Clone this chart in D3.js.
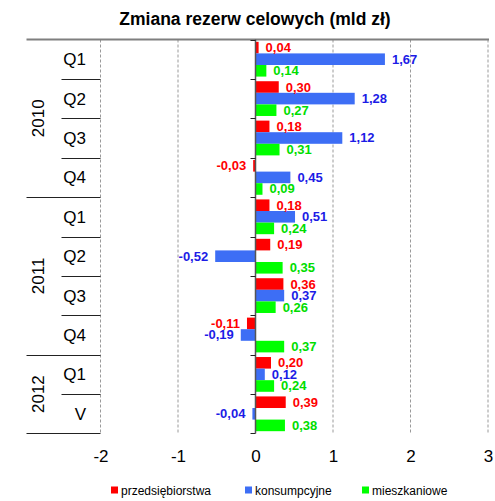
<!DOCTYPE html>
<html>
<head>
<meta charset="utf-8">
<script src="https://cdn.jsdelivr.net/npm/d3@7"></script>
<style>
  html, body { margin: 0; padding: 0; background: #fff; }
  svg { display: block; font-family: Arial, "Liberation Sans", sans-serif; }
</style>
</head>
<body>
<svg id="chart" width="495" height="501"></svg>
<script>
// Period labels (quarters) and the year each belongs to
const periods = ["Q1", "Q2", "Q3", "Q4", "Q1", "Q2", "Q3", "Q4", "Q1", "V"];
const periodYears = ["2010", "2010", "2010", "2010", "2011", "2011", "2011", "2011", "2012", "2012"];
const years = ["2010", "2011", "2012"];

// Change in specific provisions, bn PLN
const seriesNames = ["przedsiębiorstwa", "konsumpcyjne", "mieszkaniowe"];
const przedsiebiorstwa = [0.04, 0.30, 0.18, -0.03, 0.18, 0.19, 0.36, -0.11, 0.20, 0.39];
const konsumpcyjne = [1.67, 1.28, 1.12, 0.45, 0.51, -0.52, 0.37, -0.19, 0.12, -0.04];
const mieszkaniowe = [0.14, 0.27, 0.31, 0.09, 0.24, 0.35, 0.26, 0.37, 0.24, 0.38];

const xTicks = [-2, -1, 0, 1, 2, 3];

const barColors = ["#ff0000", "#3d6ef5", "#00ff00"];
const labelColors = ["#ff0000", "#1c1ce6", "#00dd00"];

const seriesValues = [przedsiebiorstwa, konsumpcyjne, mieszkaniowe];
const rowKeys = periods.map((p, i) => periodYears[i] + "-" + p);
const rows = rowKeys.map((k, i) => ({
  key: k, period: periods[i], year: periodYears[i],
  values: seriesNames.map((s, j) => ({ series: s, idx: j, value: seriesValues[j][i] }))
}));

const fmt = d3.formatLocale({ decimal: ",", thousands: " ", grouping: [3], currency: ["", " zł"], minus: "-" }).format(".2f");

const svg = d3.select("#chart");

const plotTop = 39.5, plotBottom = 433.5;
const x = d3.scaleLinear().domain([-2, 3]).range([100.5, 488]);
const y = d3.scaleBand().domain(rowKeys).range([plotTop, plotBottom]).padding(0);
const ySub = d3.scaleBand().domain(seriesNames).range([0, y.bandwidth()]).paddingInner(0).paddingOuter(0.2);

// Title
svg.append("text")
  .attr("x", 255).attr("y", 25)
  .attr("text-anchor", "middle")
  .attr("font-size", 17.5).attr("font-weight", "bold")
  .attr("fill", "#000")
  .text("Zmiana rezerw celowych (mld zł)");

// Vertical dashed gridlines
svg.append("g").selectAll("line")
  .data(xTicks.filter(t => t !== 0))
  .join("line")
  .attr("x1", d => x(d)).attr("x2", d => x(d))
  .attr("y1", plotTop).attr("y2", plotBottom)
  .attr("stroke", "#9a9a9a").attr("stroke-width", 1)
  .attr("stroke-dasharray", "3,2");

// Top frame line
svg.append("line")
  .attr("x1", 26.5).attr("x2", x(3) + 1)
  .attr("y1", plotTop).attr("y2", plotTop)
  .attr("stroke", "#7f7f7f").attr("stroke-width", 2);

// Row separators in the category panel
const boundaries = rowKeys.map((k, i) => ({ y: y(k) + y.bandwidth(), yearEnd: i === rowKeys.length - 1 || periodYears[i] !== periodYears[i + 1] }));
svg.append("g").selectAll("line")
  .data(boundaries)
  .join("line")
  .attr("x1", d => d.yearEnd ? 26.5 : 61.5).attr("x2", x(-2))
  .attr("y1", d => Math.round(d.y) + 0.5).attr("y2", d => Math.round(d.y) + 0.5)
  .attr("stroke", "#222").attr("stroke-width", 1);

// Quarter labels
svg.append("g").selectAll("text")
  .data(rows)
  .join("text")
  .attr("x", 86)
  .attr("y", d => y(d.key) + y.bandwidth() / 2 + 6)
  .attr("text-anchor", "end")
  .attr("font-size", 17).attr("fill", "#000")
  .text(d => d.period);

// Year labels, rotated and centred over their rows
svg.append("g").selectAll("text")
  .data(years)
  .join("text")
  .attr("transform", yr => {
    const ks = rows.filter(r => r.year === yr).map(r => r.key);
    const cy = (y(ks[0]) + y(ks[ks.length - 1]) + y.bandwidth()) / 2;
    return `translate(44,${cy}) rotate(-90)`;
  })
  .attr("text-anchor", "middle")
  .attr("font-size", 17).attr("fill", "#000")
  .text(yr => yr);

// Bars
const rowG = svg.append("g").selectAll("g")
  .data(rows)
  .join("g")
  .attr("transform", d => `translate(0,${y(d.key)})`);

rowG.selectAll("rect")
  .data(d => d.values)
  .join("rect")
  .attr("x", d => x(Math.min(0, d.value)))
  .attr("width", d => Math.abs(x(d.value) - x(0)))
  .attr("y", d => ySub(d.series))
  .attr("height", ySub.bandwidth())
  .attr("fill", d => barColors[d.idx]);

// Value labels
rowG.selectAll("text")
  .data(d => d.values)
  .join("text")
  .attr("x", d => d.value >= 0 ? x(d.value) + 7 : x(d.value) - 7)
  .attr("y", d => ySub(d.series) + ySub.bandwidth() / 2 + 4.5)
  .attr("text-anchor", d => d.value >= 0 ? "start" : "end")
  .attr("font-size", 13).attr("font-weight", "bold")
  .attr("fill", d => labelColors[d.idx])
  .text(d => fmt(d.value));

// Zero axis with ticks at row boundaries
svg.append("line")
  .attr("x1", x(0)).attr("x2", x(0))
  .attr("y1", plotTop).attr("y2", plotBottom)
  .attr("stroke", "#555").attr("stroke-width", 1.5);
svg.append("g").selectAll("line")
  .data([plotTop].concat(boundaries.map(b => b.y)))
  .join("line")
  .attr("x1", x(0) - 5).attr("x2", x(0))
  .attr("y1", d => Math.round(d) + 0.5).attr("y2", d => Math.round(d) + 0.5)
  .attr("stroke", "#222").attr("stroke-width", 1);

// X axis tick labels
const xAxis = d3.axisBottom(x).tickValues(xTicks).tickSize(0).tickPadding(0)
  .tickFormat(d3.format("d"));
const xg = svg.append("g").attr("transform", `translate(0,${plotBottom})`).call(xAxis);
xg.select(".domain").remove();
xg.selectAll("text")
  .attr("font-size", 17).attr("fill", "#000")
  .attr("font-family", "Arial, 'Liberation Sans', sans-serif")
  .attr("dy", 0).attr("y", 28)
  .text(d => d3.format("d")(d).replace("−", "-"));

// Legend
const legendX = [111, 245, 362];
const lg = svg.append("g").selectAll("g")
  .data(seriesNames)
  .join("g")
  .attr("transform", (d, i) => `translate(${legendX[i]},490)`);
lg.append("rect")
  .attr("x", 0).attr("y", -3.5).attr("width", 7).attr("height", 7)
  .attr("fill", (d, i) => barColors[i]);
lg.append("text")
  .attr("x", 10).attr("y", 4.5)
  .attr("font-size", 12).attr("fill", "#000")
  .text(d => d);
</script>
</body>
</html>
